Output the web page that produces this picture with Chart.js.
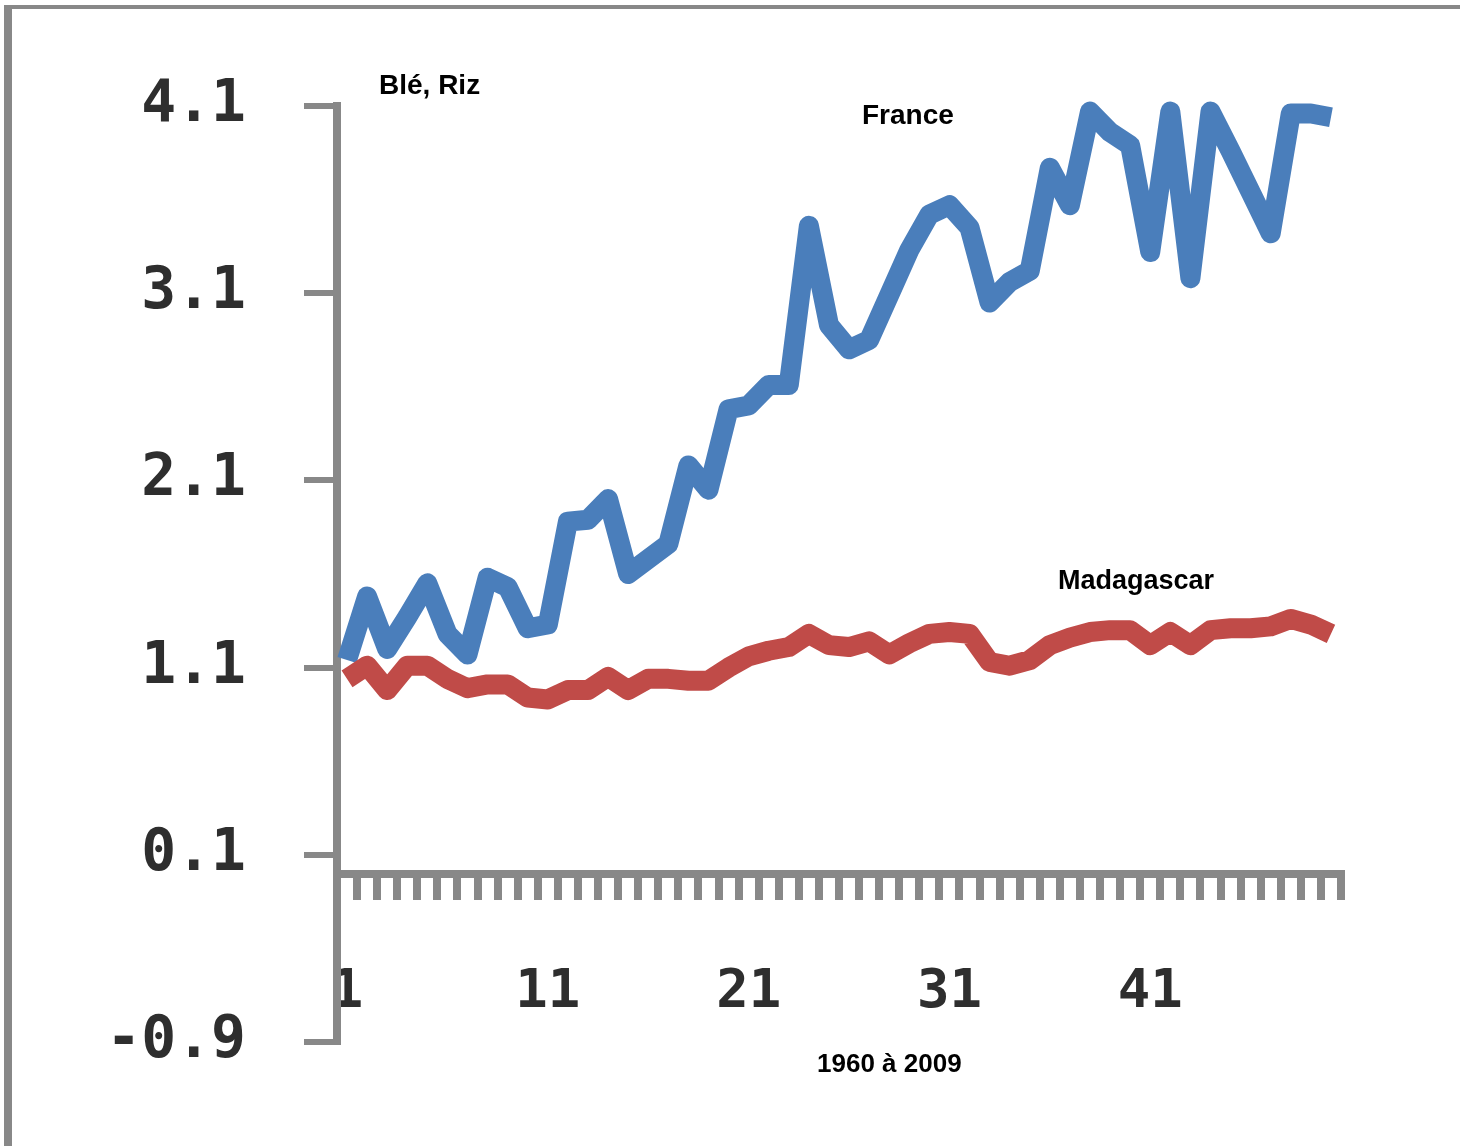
<!DOCTYPE html>
<html lang="fr">
<head>
<meta charset="utf-8">
<title>Blé, Riz - France, Madagascar</title>
<script src="https://cdn.jsdelivr.net/npm/chart.js@4.4.1/dist/chart.umd.min.js"></script>
<style>
    html, body { margin: 0; padding: 0; background: #fff; overflow: hidden; }
    #wrap { position: relative; width: 1460px; height: 1146px; overflow: hidden; }
    #frame { position: absolute; left: 4px; top: 5px; width: 1500px; height: 1200px;
             border-left: 8px solid #888; border-top: 4px solid #888; }
    #chartCanvas { position: absolute; left: 0; top: 0; }
</style>
</head>
<body>
<div id="wrap">
    <div id="frame"></div>
    <canvas id="chartCanvas" width="1460" height="1146"></canvas>
</div>
<script>
// ---------- Data (1960 à 2009, 50 years) ----------
const categories = ["1", "2", "3", "4", "5", "6", "7", "8", "9", "10",
    "11", "12", "13", "14", "15", "16", "17", "18", "19", "20",
    "21", "22", "23", "24", "25", "26", "27", "28", "29", "30",
    "31", "32", "33", "34", "35", "36", "37", "38", "39", "40",
    "41", "42", "43", "44", "45", "46", "47", "48", "49", "50"];

const franceValues = [1.14, 1.48, 1.20, 1.37, 1.55, 1.28, 1.17, 1.58, 1.53, 1.31,
    1.33, 1.88, 1.89, 2.00, 1.60, 1.68, 1.76, 2.18, 2.05, 2.48,
    2.50, 2.61, 2.61, 3.46, 2.93, 2.80, 2.85, 3.09, 3.33, 3.52,
    3.57, 3.45, 3.05, 3.16, 3.22, 3.77, 3.57, 4.07, 3.96, 3.89,
    3.32, 4.07, 3.18, 4.07, 3.86, 3.64, 3.42, 4.06, 4.06, 4.04];

const madagascarValues = [1.04, 1.11, 0.98, 1.11, 1.11, 1.04, 0.99, 1.01, 1.01, 0.94,
    0.93, 0.98, 0.98, 1.05, 0.98, 1.04, 1.04, 1.03, 1.03, 1.10,
    1.16, 1.19, 1.21, 1.28, 1.22, 1.21, 1.24, 1.17, 1.23, 1.28,
    1.29, 1.28, 1.13, 1.11, 1.14, 1.22, 1.26, 1.29, 1.30, 1.30,
    1.22, 1.29, 1.22, 1.30, 1.31, 1.31, 1.32, 1.36, 1.33, 1.28];

const yTicks = [-0.9, 0.1, 1.1, 2.1, 3.1, 4.1];
const xTickLabels = ["1", "11", "21", "31", "41"];

// ---------- Texts drawn on the chart ----------
const notes = [
    { text: "Blé, Riz", x: 379, y: 94, size: 28 },
    { text: "France", x: 862, y: 124, size: 28 },
    { text: "Madagascar", x: 1058, y: 589, size: 27 },
    { text: "1960 à 2009", x: 817, y: 1072, size: 26 }
];

const notesPlugin = {
    id: "notes",
    afterDraw(chart) {
        const ctx = chart.ctx;
        ctx.save();
        ctx.fillStyle = "#000";
        ctx.textAlign = "left";
        ctx.textBaseline = "alphabetic";
        notes.forEach(n => {
            ctx.font = "bold " + n.size + "px 'Liberation Sans', Arial, sans-serif";
            ctx.fillText(n.text, n.x, n.y);
        });
        ctx.restore();
    }
};

const axisGrey = "#888";
const tickFont = "'DejaVu Sans Mono', monospace";

// ---------- Draw Chart ----------
function drawChart() {
    const ctx = document.getElementById("chartCanvas").getContext("2d");

    new Chart(ctx, {
        type: "line",
        data: {
            labels: categories,
            datasets: [
                {
                    label: "Madagascar",
                    data: madagascarValues,
                    borderColor: "#C04B48",
                    borderWidth: 20
                },
                {
                    label: "France",
                    data: franceValues,
                    borderColor: "#4A7EBB",
                    borderWidth: 20
                }
            ]
        },
        options: {
            responsive: false,
            animation: false,
            clip: false,
            // bottom padding keeps -0.9 at the same height as the reference
            layout: { padding: { top: 106, right: 119, bottom: 104, left: 0 } },
            elements: {
                point: { radius: 0, hoverRadius: 0 },
                line: { tension: 0, borderJoinStyle: "round", borderCapStyle: "butt", fill: false }
            },
            plugins: {
                legend: { display: false },
                title: { display: false },
                tooltip: { enabled: false }
            },
            scales: {
                x: {
                    type: "category",
                    position: { y: 0 },
                    offset: true,
                    grid: {
                        offset: true,
                        drawOnChartArea: false,
                        drawTicks: true,
                        tickLength: 22,
                        lineWidth: 8,
                        color: axisGrey
                    },
                    border: { display: true, width: 8, color: axisGrey },
                    ticks: {
                        autoSkip: false,
                        maxRotation: 0,
                        minRotation: 0,
                        padding: 65,
                        color: "#2e2e2e",
                        font: { family: tickFont, size: 54, weight: "bold" },
                        callback: function(value) {
                            const lab = this.getLabelForValue(value);
                            return xTickLabels.includes(lab) ? lab : "";
                        }
                    }
                },
                y: {
                    type: "linear",
                    min: -0.9,
                    max: 4.1,
                    afterBuildTicks: function(scale) {
                        scale.ticks = yTicks.map(v => ({ value: v }));
                    },
                    grid: {
                        drawOnChartArea: false,
                        drawTicks: true,
                        tickLength: 33,
                        lineWidth: 6,
                        color: axisGrey
                    },
                    border: { display: true, width: 8, color: axisGrey },
                    ticks: {
                        padding: 58,
                        color: "#2e2e2e",
                        font: { family: tickFont, size: 58, weight: "bold" },
                        callback: function(value) { return value.toFixed(1); }
                    },
                    afterFit: function(scale) { scale.width = 337; }
                }
            }
        },
        plugins: [notesPlugin]
    });
}

window.onload = function() {
    drawChart();
};
</script>
</body>
</html>
